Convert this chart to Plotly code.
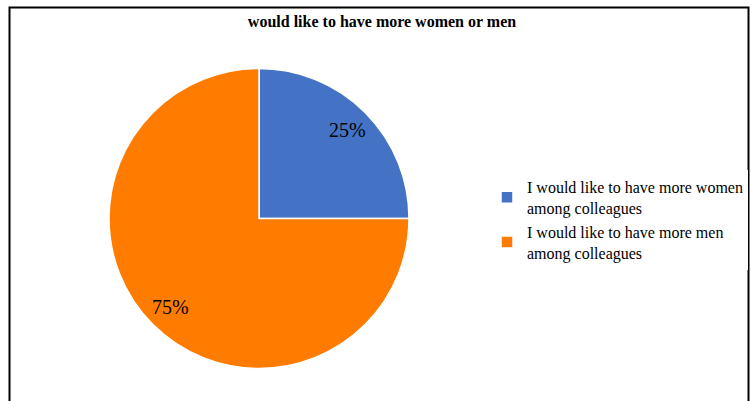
import math
import plotly.graph_objects as go

# Survey answers and their shares
categories = [
    "I would like to have more women<br>among colleagues",
    "I would like to have more men<br>among colleagues",
]
shares = [25, 75]
colors = ["#4472C4", "#FF7C00"]
title_text = "would like to have more women or men"

SERIF = "'Times New Roman', 'Liberation Serif', 'DejaVu Serif', serif"

W, H = 751, 401
cx, cy, r = 259, 218.5, 150  # pie centre and radius in pixels

fig = go.Figure()
fig.add_trace(go.Pie(
    labels=categories,
    values=shares,
    sort=False,
    direction="clockwise",
    rotation=0,
    marker=dict(colors=colors, line=dict(color="white", width=1.5)),
    textinfo="none",
    hoverinfo="label+percent",
    domain=dict(x=[(cx - r) / W, (cx + r) / W], y=[1 - (cy + r) / H, 1 - (cy - r) / H]),
))

# Percentage labels placed at the middle angle of each slice
total = sum(shares)
start = 0.0
for v in shares:
    mid = (start + v / 2) / total * 2 * math.pi
    px = cx + 0.83 * r * math.sin(mid)
    py = cy - 0.83 * r * math.cos(mid)
    fig.add_annotation(
        x=px / W, y=1 - py / H, xref="paper", yref="paper",
        text=f"{round(v / total * 100)}%", showarrow=False,
        font=dict(family=SERIF, size=20, color="black"),
        xanchor="center", yanchor="middle",
    )
    start += v

# Chart frame
fig.add_shape(
    type="rect", xref="paper", yref="paper",
    x0=9.5 / W, x1=748.5 / W, y0=-0.1, y1=1 - 7.5 / H,
    line=dict(color="black", width=2), fillcolor="rgba(0,0,0,0)",
)

fig.update_layout(
    width=W, height=H,
    margin=dict(l=0, r=0, t=0, b=0),
    paper_bgcolor="white", plot_bgcolor="white",
    font=dict(family=SERIF, color="black"),
    title=dict(
        text=f"<b>{title_text}</b>", x=382 / W, y=1 - 21 / H,
        xanchor="center", yanchor="middle", xref="paper", yref="paper",
        font=dict(family=SERIF, size=16, color="black"),
    ),
    legend=dict(
        x=487 / W, y=1 - 170 / H, xanchor="left", yanchor="top",
        font=dict(family=SERIF, size=16, color="black"),
        itemclick=False,
    ),
    showlegend=True,
)

fig.write_html("out.html")
